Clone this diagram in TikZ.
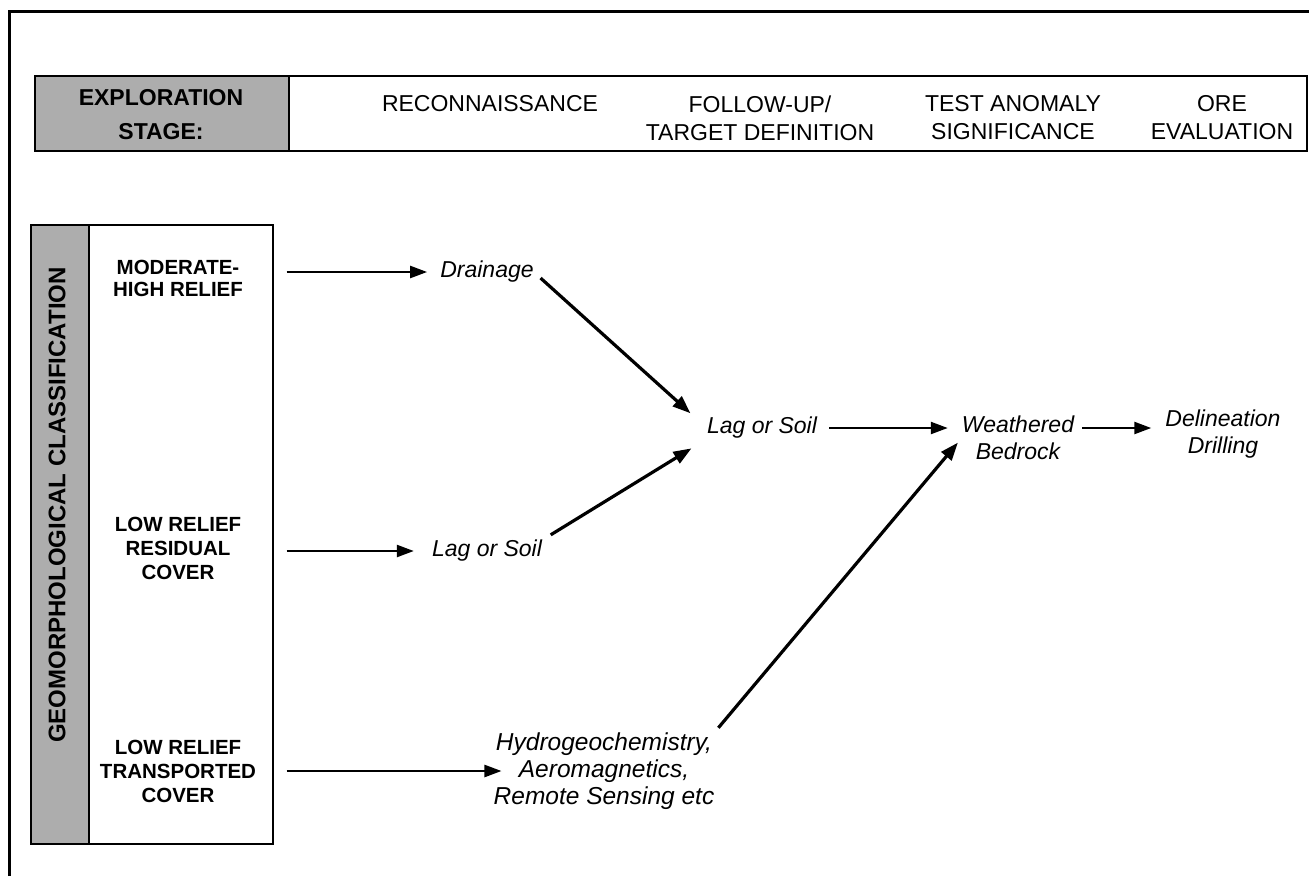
\documentclass[tikz,border=0pt]{standalone}
\usepackage{fontspec}
\setmainfont{Liberation Sans}
\usetikzlibrary{arrows.meta,calc}
\begin{document}
\begin{tikzpicture}[x=1pt,y=-1pt,
  hdr/.style={font=\fontsize{23}{28}\selectfont, align=center, inner sep=0pt},
  hdrbold/.style={font=\bfseries\fontsize{23}{34}\selectfont, align=center, inner sep=0pt},
  cls/.style={font=\bfseries\fontsize{20.5}{24}\selectfont, align=center, inner sep=0pt},
  itl/.style={font=\itshape\fontsize{23}{27}\selectfont, align=center, inner sep=0pt},
  shade/.style={fill=black!32},
  arr/.style={line width=2.4pt, -{Triangle[length=17pt,width=12pt]}},
  darr/.style={line width=3.2pt, -{Triangle[length=18pt,width=13pt]}}
]
\useasboundingbox (0,0) rectangle (1309,876);
% outer frame (top and left edges)
\draw[line width=3pt] (9,876) -- (9,11) -- (1309,11);
% header box
\node[draw, line width=1.5pt, minimum width=1272pt, minimum height=75pt, inner sep=0pt, anchor=north west] (head) at (34,75) {};
\node[draw, shade, line width=1.5pt, minimum width=254pt, minimum height=75pt, inner sep=0pt, anchor=north west] (headgray) at (34,75) {};
\node[hdrbold] (stage) at (161,115) {EXPLORATION\\STAGE:};
\node[hdr] (recon) at (490,104) {RECONNAISSANCE};
\node[hdr] (follow) at (760,118) {FOLLOW-UP/\\TARGET DEFINITION};
\node[hdr] (test) at (1013,118) {TEST ANOMALY\\SIGNIFICANCE};
\node[hdr] (ore) at (1222,118) {ORE\\EVALUATION};
% left classification box
\node[draw, line width=1.5pt, minimum width=242pt, minimum height=619pt, inner sep=0pt, anchor=north west] (geo) at (30,224) {};
\node[draw, shade, line width=1.5pt, minimum width=58pt, minimum height=619pt, inner sep=0pt, anchor=north west] (geogray) at (30,224) {};
\node[font=\bfseries\fontsize{24}{28}\selectfont, rotate=90, inner sep=0pt] (geotitle) at (57,505) {GEOMORPHOLOGICAL CLASSIFICATION};
\node[cls, font=\bfseries\fontsize{20.5}{22}\selectfont] (mod) at (178,278) {MODERATE-\\HIGH RELIEF};
\node[cls] (res) at (178,548) {LOW RELIEF\\RESIDUAL\\COVER};
\node[cls] (trn) at (178,771) {LOW RELIEF\\TRANSPORTED\\COVER};
% flow nodes
\node[itl] (drain) at (487,272) {Drainage};
\node[itl] (low) at (487,551) {Lag or Soil};
\node[itl, font=\itshape\fontsize{24.5}{27}\selectfont] (hyd) at (604,771) {Hydrogeochemistry,\\Aeromagnetics,\\Remote Sensing etc};
\node[itl] (mid) at (762,428) {Lag or Soil};
\node[itl] (wb) at (1018,438) {Weathered\\Bedrock};
\node[itl] (del) at (1223,434) {Delineation\\Drilling};
% connectors
\draw[arr, shorten <=13pt, shorten >=13pt] (geo.east |- drain.west) -- (drain.west);
\draw[arr, shorten <=13pt, shorten >=18pt] (geo.east |- low.west) -- (low.west);
\draw[arr, shorten <=13pt, shorten >=-8pt] (geo.east |- hyd.west) -- (hyd.west);
\draw[darr, shorten <=9pt, shorten >=22pt] (drain.east) -- (mid.west);
\draw[darr, shorten <=10pt, shorten >=18pt] (low.north east) -- (mid.south west);
\draw[arr, shorten <=12pt, shorten >=14pt] (mid.east) -- (mid.east -| wb.west);
\draw[darr, shorten <=6pt, shorten >=6pt] (hyd.north east) -- (wb.west);
\draw[arr, shorten <=8pt, shorten >=14pt] (wb.east |- mid.east) -- (del.west |- mid.east);
\end{tikzpicture}
\end{document}
